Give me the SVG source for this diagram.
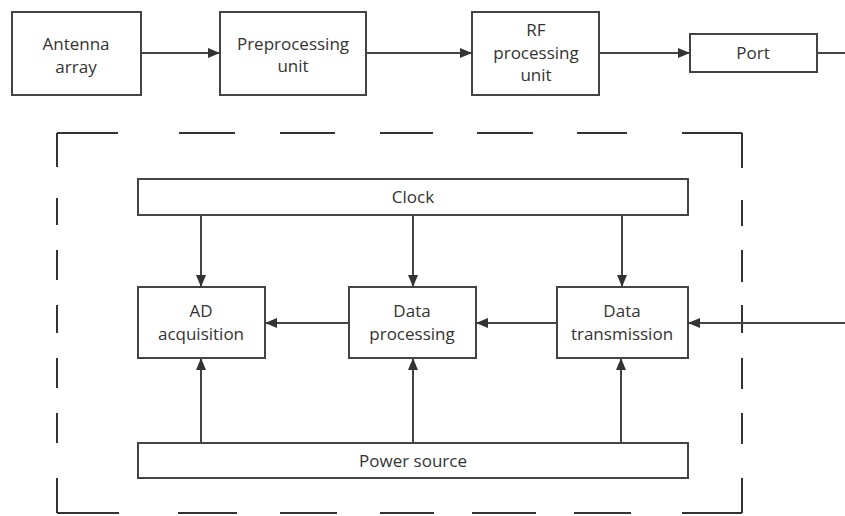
<svg xmlns="http://www.w3.org/2000/svg" width="845" height="516" viewBox="0 0 845 516">
<style>
.box{fill:#fff;stroke:#444;stroke-width:2}
.t{font-family:"Open Sans","Liberation Sans",sans-serif;font-size:17px;fill:#333;text-anchor:middle}
.c{stroke:#444;stroke-width:2;fill:none}
.d{stroke:#333;stroke-width:2;fill:none}
</style>
<defs>
<marker id="ah" viewBox="0 0 12 10" refX="12" refY="5" markerWidth="12" markerHeight="10" markerUnits="userSpaceOnUse" orient="auto">
<path d="M0,0 L12,5 L0,10 Z" fill="#333"/>
</marker>
</defs>
<rect width="845" height="516" fill="#fff"/>
<g id="frame">
<path class="d" d="M57,133 H118 M179,133 H235 M280,133 H335 M380,133 H433 M477,133 H533 M577,133 H627 M682,133 H742
M57,513 H119 M178,513 H237 M280,513 H337 M380,513 H434 M472,513 H536 M574,513 H631 M682,513 H742
M57,133 V167 M57,198 V225 M57,250 V280 M57,305 V333 M57,358 V388 M57,413 V443 M57,478 V513
M742,133 V168 M742,200 V226 M742,250 V282 M742,305 V333 M742,358 V389 M742,413 V444 M742,478 V513"/>
</g>
<g id="antenna"><rect class="box" x="12" y="12" width="129" height="83"/><text class="t" x="76" y="50">Antenna</text><text class="t" x="76" y="73">array</text></g>
<g id="preprocessing"><rect class="box" x="220" y="12" width="146" height="83"/><text class="t" x="293" y="50">Preprocessing</text><text class="t" x="293" y="72">unit</text></g>
<g id="rf"><rect class="box" x="472" y="12" width="127" height="83"/><text class="t" x="536" y="36">RF</text><text class="t" x="536" y="59">processing</text><text class="t" x="536" y="81">unit</text></g>
<g id="port"><rect class="box" x="690" y="34" width="127" height="38"/><text class="t" x="753" y="59">Port</text></g>
<g id="clock"><rect class="box" x="138" y="179" width="550" height="36"/><text class="t" x="413" y="203">Clock</text></g>
<g id="ad"><rect class="box" x="138" y="287" width="127" height="71"/><text class="t" x="201" y="317">AD</text><text class="t" x="201" y="340">acquisition</text></g>
<g id="dataproc"><rect class="box" x="349" y="287" width="127" height="71"/><text class="t" x="412" y="317">Data</text><text class="t" x="412" y="340">processing</text></g>
<g id="datatrans"><rect class="box" x="557" y="287" width="131" height="71"/><text class="t" x="622" y="317">Data</text><text class="t" x="622" y="340">transmission</text></g>
<g id="power"><rect class="box" x="138" y="443" width="550" height="35"/><text class="t" x="413" y="467">Power source</text></g>
<g id="connectors">
<line class="c" x1="141" y1="53" x2="220" y2="53" marker-end="url(#ah)"/>
<line class="c" x1="366" y1="53" x2="472" y2="53" marker-end="url(#ah)"/>
<line class="c" x1="599" y1="53" x2="690" y2="53" marker-end="url(#ah)"/>
<line class="c" x1="817" y1="53" x2="845" y2="53"/>
<line class="c" x1="201" y1="215" x2="201" y2="287" marker-end="url(#ah)"/>
<line class="c" x1="413" y1="215" x2="413" y2="287" marker-end="url(#ah)"/>
<line class="c" x1="622" y1="215" x2="622" y2="287" marker-end="url(#ah)"/>
<line class="c" x1="201" y1="443" x2="201" y2="358" marker-end="url(#ah)"/>
<line class="c" x1="413" y1="443" x2="413" y2="358" marker-end="url(#ah)"/>
<line class="c" x1="621" y1="443" x2="621" y2="358" marker-end="url(#ah)"/>
<line class="c" x1="349" y1="323" x2="265" y2="323" marker-end="url(#ah)"/>
<line class="c" x1="557" y1="323" x2="476" y2="323" marker-end="url(#ah)"/>
<line class="c" x1="845" y1="323" x2="688" y2="323" marker-end="url(#ah)"/>
</g>
</svg>
